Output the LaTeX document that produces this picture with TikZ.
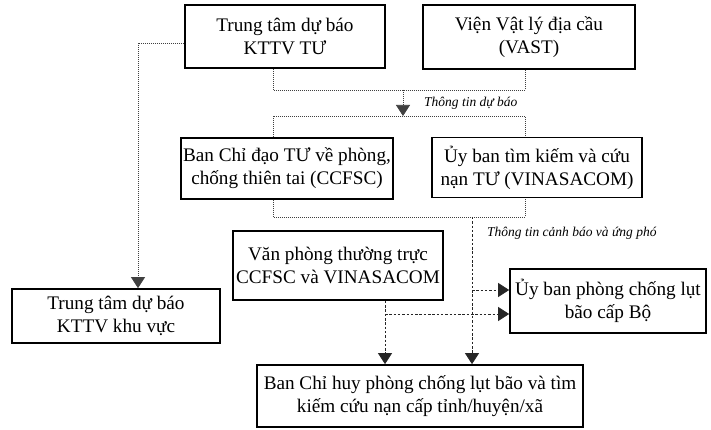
\documentclass[tikz,border=0pt]{standalone}
\usepackage{fontspec}
\setmainfont{Liberation Serif}
\usetikzlibrary{arrows.meta}
\begin{document}
\begin{tikzpicture}[x=1pt,y=-1pt,
  box/.style={draw=black,line width=1.7pt,fill=white,align=center,inner sep=0pt,
    font=\fontsize{19.2}{23}\selectfont},
  dotl/.style={draw=black!75,line width=0.7pt,dash pattern=on 0.8pt off 1.2pt},
  dashl/.style={draw=black!85,line width=0.7pt,dash pattern=on 2.5pt off 1.8pt},
  tip/.style={-{Triangle[width=14pt,length=11pt]}},
  lbl/.style={font=\fontsize{13.5}{15}\selectfont\itshape,anchor=west,inner sep=0pt}]
\useasboundingbox (0,0) rectangle (711,430);

\node[box,minimum width=200pt,minimum height=63pt] (b1) at (285,36.5) {Trung tâm dự báo\\KTTV TƯ};
\node[box,minimum width=212pt,minimum height=64pt] (b2) at (529,37) {Viện Vật lý địa cầu\\(VAST)};
\node[box,minimum width=212pt,minimum height=61pt] (b3) at (287,168.5) {Ban Chỉ đạo TƯ về phòng,\\chống thiên tai (CCFSC)};
\node[box,minimum width=210pt,minimum height=60pt] (b4) at (537,167.5) {Ủy ban tìm kiếm và cứu\\nạn TƯ (VINASACOM)};
\node[box,minimum width=210pt,minimum height=69pt] (b5) at (338,265.5) {Văn phòng thường trực\\CCFSC và VINASACOM};
\node[box,minimum width=208pt,minimum height=54pt] (b6) at (116,316) {Trung tâm dự báo\\KTTV khu vực};
\node[box,minimum width=196pt,minimum height=64pt] (b7) at (608,301) {Ủy ban phòng chống lụt\\bão cấp Bộ};
\node[box,minimum width=326pt,minimum height=62pt] (b8) at (420,396) {Ban Chỉ huy phòng chống lụt bão và tìm\\kiếm cứu nạn cấp tỉnh/huyện/xã};

% junction coordinates
\coordinate (j1a) at (273,90);
\coordinate (j1b) at (525,90);
\coordinate (j1c) at (403,90);
\coordinate (j2c) at (403,116);
\coordinate (j2a) at (273,116);
\coordinate (j2b) at (525,116);
\coordinate (j3a) at (273,217);
\coordinate (j3b) at (525,217);
\coordinate (j3c) at (472,217);
\coordinate (j4) at (138,43);
\coordinate (j5a) at (472,290);
\coordinate (j5b) at (385,314);

% top: forecast information
\draw[dotl] (b1.south -| j1a) -- (j1a) -- (j1b) -- (b2.south -| j1b);
\draw[dotl,tip] (j1c) -- (j2c);
\draw[dotl] (b3.north -| j2a) -- (j2a) -- (j2b) -- (b4.north -| j2b);
\node[lbl] (l1) at (424,103) {Thông tin dự báo};

% left: to regional centre
\draw[dotl,tip] (b1.west |- j4) -- (j4) -- (b6.north -| j4);

% middle: warning information
\draw[dotl] (b3.south -| j3a) -- (j3a) -- (j3b) -- (b4.south -| j3b);
\draw[dashl,tip] (j3c) -- (b8.north -| j3c);
\draw[dashl,tip] (j5a) -- (b7.west |- j5a);
\node[lbl] (l2) at (487,233) {Thông tin cảnh báo và ứng phó};

% office
\draw[dashl,tip] (b5.south -| j5b) -- (b8.north -| j5b);
\draw[dashl,tip] (j5b) -- (b7.west |- j5b);
\end{tikzpicture}
\end{document}
